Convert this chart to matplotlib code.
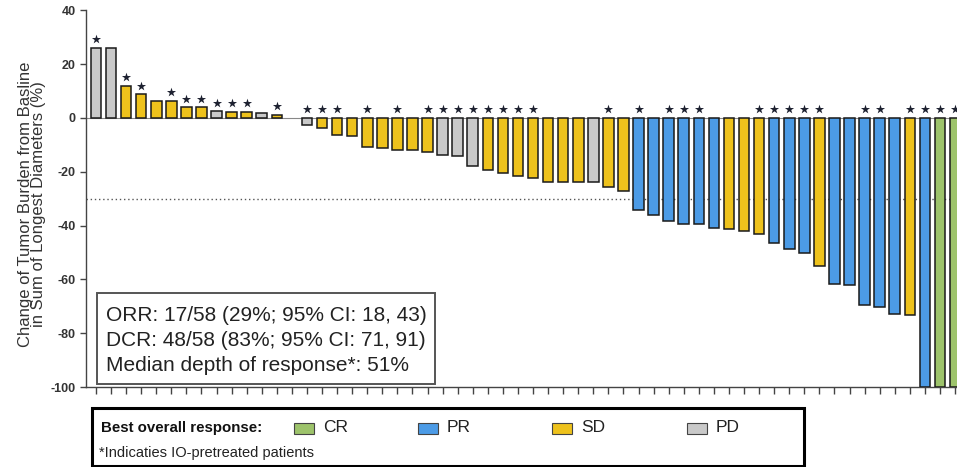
import matplotlib
matplotlib.use("Agg")
import matplotlib.pyplot as plt
import matplotlib.patches as mpatches
import numpy as np

plt.rcParams["font.family"] = ["Liberation Sans", "DejaVu Sans"]
plt.rcParams["axes.unicode_minus"] = False

# best % change per patient, sorted (waterfall)
change = [26, 26, 12, 8.7, 6.4, 6.4, 4.0, 4.0, 2.4, 2.3, 2.2, 1.7, 1.2, 0,
          -2.7, -3.7, -6.5, -6.7, -10.7, -11.3, -11.9, -12.0, -12.5, -13.6,
          -14.1, -18.0, -19.4, -20.4, -21.7, -22.3, -23.9, -23.9, -24.0, -24.0,
          -25.8, -27.2, -34.4, -35.9, -38.4, -39.5, -39.5, -40.8, -41.4, -42.0,
          -43.1, -46.5, -48.9, -50.3, -55.2, -61.6, -62.2, -69.4, -70.2, -72.7,
          -73.4, -100, -100, -100]
response = ["PD", "PD", "SD", "SD", "SD", "SD", "SD", "SD", "PD", "SD", "SD", "PD", "SD", "PD",
            "PD", "SD", "SD", "SD", "SD", "SD", "SD", "SD", "SD", "PD",
            "PD", "PD", "SD", "SD", "SD", "SD", "SD", "SD", "SD", "PD",
            "SD", "SD", "PR", "PR", "PR", "PR", "PR", "PR", "SD", "SD",
            "SD", "PR", "PR", "PR", "SD", "PR", "PR", "PR", "PR", "PR",
            "SD", "PR", "CR", "CR"]
# IO-pretreated patients (index of bar)
io_pretreated = [0, 2, 3, 5, 6, 7, 8, 9, 10, 12, 14, 15, 16, 18, 20, 22, 23, 24, 25,
                 26, 27, 28, 29, 34, 36, 38, 39, 40, 44, 45, 46, 47, 48, 51, 52,
                 54, 55, 56, 57]

legend_order = ["CR", "PR", "SD", "PD"]
colors = {"CR": "#9dc36b", "PR": "#4c9be6", "SD": "#eec21c", "PD": "#c9c9c9"}

stats_lines = ["ORR: 17/58 (29%; 95% CI: 18, 43)",
               "DCR: 48/58 (83%; 95% CI: 71, 91)",
               "Median depth of response*: 51%"]

W, H = 957, 467


def fx(px):
    return px / W


def fy(py):
    return 1 - py / H


fig = plt.figure(figsize=(9.57, 4.67), dpi=100)
ax = fig.add_axes([0.0899, 0.1713, 0.9101, 0.8067])

x = np.arange(len(change))
bars = ax.bar(x, change, width=0.7, color=[colors[r] for r in response],
              edgecolor="#1a1a1a", linewidth=1.1, zorder=3)
for b, v in zip(bars, change):
    if v == 0:
        b.set_linewidth(0)

star_y = [max(change[i], 0) + 3.2 for i in io_pretreated]
ax.scatter(x[io_pretreated], star_y, marker="*", s=48, color="#1d2130",
           linewidths=0, zorder=4, clip_on=False)

ax.axhline(0, color="#888888", lw=0.8, zorder=1)
ax.axhline(-30, color="#555555", lw=1.0, ls=(0, (1, 2)), zorder=2)

ax.set_xlim(-0.66, 57.13)
ax.set_ylim(-100, 40)
ax.set_yticks([40, 20, 0, -20, -40, -60, -80, -100])
ax.set_xticks(x)
ax.set_xticklabels([])
ax.tick_params(axis="x", length=5, width=1, color="#444444", direction="out")
ax.tick_params(axis="y", length=4, width=1, color="#444444", labelsize=9,
               labelcolor="#333333")
for lbl in ax.get_yticklabels():
    lbl.set_fontweight("bold")
for side in ["top", "right"]:
    ax.spines[side].set_visible(False)
for side in ["left", "bottom"]:
    ax.spines[side].set_color("#444444")
    ax.spines[side].set_linewidth(1.0)

ax.set_ylabel("Change of Tumor Burden from Basline\nin Sum of Longest Diameters (%)",
              fontsize=12, color="#333333", linespacing=0.85)
ax.yaxis.set_label_coords(-0.046, 0.4845)

# stats box
fig.patches.append(mpatches.Rectangle((fx(97), fy(384)), fx(435 - 97), (384 - 293) / H,
                                      transform=fig.transFigure, fc="white",
                                      ec="#555555", lw=1.4, zorder=5))
for line, base in zip(stats_lines, [321, 346.5, 371]):
    fig.text(fx(106), fy(base), line, fontsize=15, color="#222222",
             va="baseline", ha="left", zorder=6)

# legend panel at the bottom
fig.patches.append(mpatches.Rectangle((fx(92), fy(466)), fx(804 - 92), (466 - 408) / H,
                                      transform=fig.transFigure,
                                      fill=False, ec="black", lw=2.2))
fig.text(fx(101), fy(428), "Best overall response:", fontsize=10.8,
         fontweight="bold", va="center", color="#111111")
fig.text(fx(99), fy(453), "*Indicaties IO-pretreated patients", fontsize=10.5,
         va="center", color="#222222")
patch_x = [294, 418, 552, 687]
for px, name in zip(patch_x, legend_order):
    fig.patches.append(mpatches.Rectangle((fx(px), fy(434)), fx(20), 11 / H,
                                          transform=fig.transFigure, fc=colors[name],
                                          ec="#444444", lw=0.8))
    fig.text(fx(px + 29), fy(428), name, fontsize=12.5, va="center",
             color="#222222")

fig.savefig("out.png", dpi=100)
